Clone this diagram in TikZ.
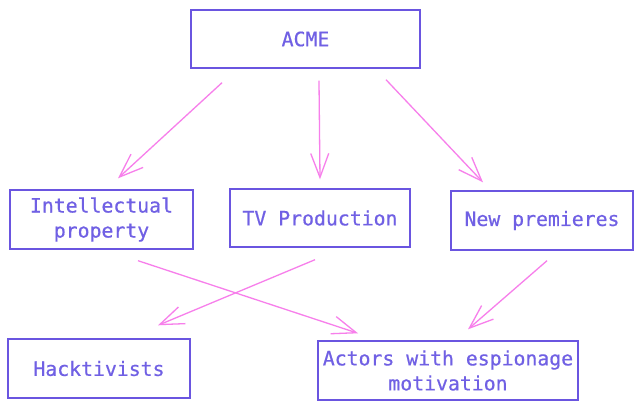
\documentclass[tikz,border=0pt]{standalone}
\usepackage{fontspec}
\newfontfamily\boxfont[BoldFont=DejaVu Sans Mono, BoldFeatures={FakeBold=0.6}]{DejaVu Sans Mono}
\usetikzlibrary{arrows.meta}
\definecolor{boxcol}{HTML}{6A55E0}
\definecolor{txtcol}{HTML}{7060E4}
\definecolor{arrcol}{HTML}{F77FEB}
\tikzset{
  box/.style={draw=boxcol, line width=1.4pt, text=txtcol, align=center,
    font=\boxfont\bfseries\fontsize{19.8}{25}\selectfont, inner sep=0pt},
  arr/.style={draw=arrcol, line width=1.3pt, -{Straight Barb[length=24pt,width=18pt]}}
}
\begin{document}
\begin{tikzpicture}[x=1pt, y=-1pt]
    \fill[white] (0, 0) rectangle (643, 410);
    \useasboundingbox (0, 0) rectangle (643, 410);

    \node[box, minimum width=229pt, minimum height=58pt] (0) at (305.5, 39) {ACME};
    \node[box, minimum width=183pt, minimum height=59pt] (1) at (101.5, 219.5) {Intellectual\\property};
    \node[box, minimum width=180pt, minimum height=58pt] (2) at (320, 218) {TV Production};
    \node[box, minimum width=182pt, minimum height=59pt] (3) at (542, 220.5) {New premieres};
    \node[box, minimum width=182pt, minimum height=59pt] (4) at (99, 368.5) {Hacktivists};
    \node[box, minimum width=260pt, minimum height=59pt] (5) at (448, 370.5) {Actors with espionage\\motivation};

    \draw[arr] ([xshift=-83.5pt, yshift=-14pt]0.south) -- ([xshift=16.5pt, yshift=11pt]1.north);
    \draw[arr] ([xshift=13.5pt, yshift=-12pt]0.south) -- ([yshift=9pt]2.north);
    \draw[arr] ([xshift=80.5pt, yshift=-11pt]0.south) -- ([xshift=-59pt, yshift=8pt]3.north);
    \draw[arr] ([xshift=36.5pt, yshift=-11pt]1.south) -- ([xshift=-90pt, yshift=7pt]5.north);
    \draw[arr] ([xshift=-5pt, yshift=-12pt]2.south) -- ([xshift=59pt, yshift=13pt]4.north);
    \draw[arr] ([xshift=5pt, yshift=-10pt]3.south) -- ([xshift=20pt, yshift=11pt]5.north);
  \end{tikzpicture}
\end{document}
